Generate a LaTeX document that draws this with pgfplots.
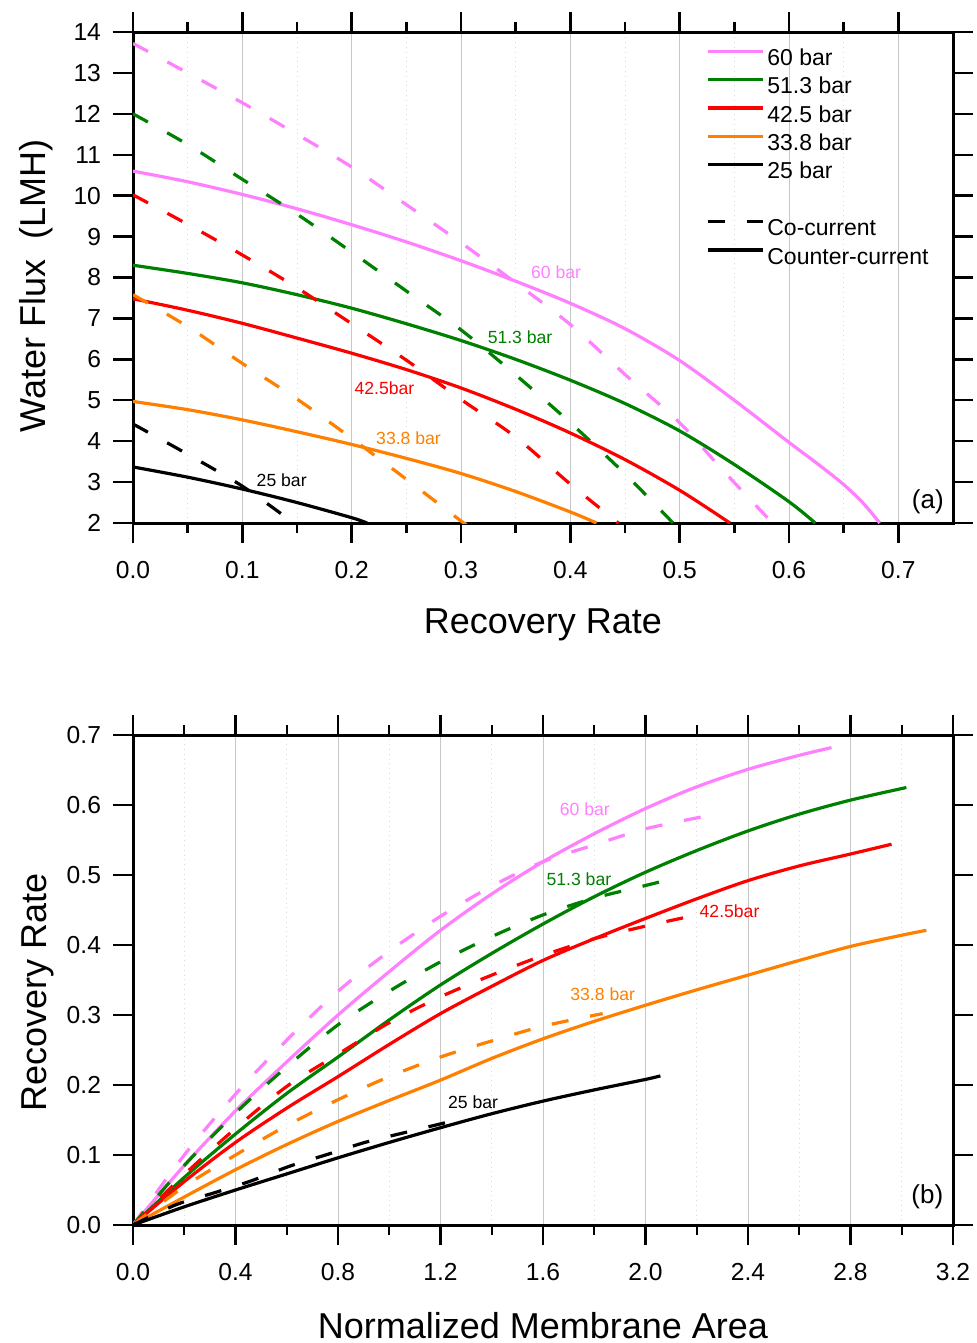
\documentclass[border=0pt]{standalone}
\usepackage{fontspec}
\setmainfont{Liberation Sans}
\usepackage{pgfplots}
\pgfplotsset{compat=1.18}
\definecolor{cPink}{RGB}{255,128,255}
\definecolor{cGreen}{RGB}{0,128,0}
\definecolor{cRed}{RGB}{255,0,0}
\definecolor{cOrange}{RGB}{255,128,0}
\tikzset{co/.style={dash pattern=on 8.5pt off 11pt}}
\pgfplotsset{
  myaxis/.style={
    scale only axis,
    width=410pt,
    /pgf/number format/assume math mode=true,
    tick align=outside,
    major tick length=10pt,
    minor tick length=5pt,
    tick style={black, line width=1.2pt},
    axis line style={line width=1.5pt, black},
    xmajorgrids, xminorgrids,
    major grid style={line width=0.5pt, color=black!22, solid},
    minor grid style={line width=0.4pt, color=black!14, dotted},
    minor x tick num=1,
    tick label style={font=\fontsize{12.3}{14}\selectfont},
    label style={font=\fontsize{18}{21}\selectfont},
    x tick label style={yshift=-5.5pt, /pgf/number format/.cd, fixed, fixed zerofill, precision=1, /tikz/.cd},
    y tick label style={xshift=-2.5pt},
    every axis plot/.append style={line width=1.6pt, no markers, smooth},
  }
}
\begin{document}
\begin{tikzpicture}
\useasboundingbox (0,0) rectangle (488.5pt,-671.5pt);
% ---------------- (a) ----------------
\begin{axis}[myaxis,
  at={(66.5pt,-261.5pt)}, anchor=south west,
  height=245.5pt,
  xmin=0, xmax=0.75, ymin=2, ymax=14,
  xtick={0,0.1,0.2,0.3,0.4,0.5,0.6,0.7},
  ytick={2,3,4,5,6,7,8,9,10,11,12,13,14},
  xlabel={Recovery Rate},
  ylabel={Water Flux~ (LMH)},
  xlabel style={at={(axis description cs:0.5,-0.226)}, anchor=base},
  ylabel style={at={(axis description cs:-0.1073,0.483)}, anchor=base},
  legend style={draw=none, fill=none, at={(axis description cs:0.699,0.967)}, anchor=north west,
    inner sep=0pt, outer sep=0pt, font=\fontsize{11.5}{13}\selectfont, row sep=3.2pt,
    nodes={inner sep=0pt, text height=8.5pt, text depth=2.5pt}},
  legend cell align=left,
  legend image code/.code={\draw[#1, line width=1.6pt] (0pt,4pt) -- (27.5pt,4pt); \path (0pt,0pt) (29pt,0pt);},
]
\addlegendimage{color=cPink}\addlegendentry{60 bar}
\addlegendimage{color=cGreen}\addlegendentry{51.3 bar}
\addlegendimage{color=cRed}\addlegendentry{42.5 bar}
\addlegendimage{color=cOrange}\addlegendentry{33.8 bar}
\addlegendimage{color=black}\addlegendentry{25 bar}
\addlegendimage{empty legend}\addlegendentry{}
\addlegendimage{color=black, co}\addlegendentry{Co-current}
\addlegendimage{color=black}\addlegendentry{Counter-current}
% 60 bar
\addplot[cPink, forget plot] coordinates {(0,10.6)(0.05,10.34)(0.1,10.03)(0.15,9.68)(0.2,9.29)(0.25,8.87)(0.3,8.41)(0.35,7.91)(0.4,7.37)(0.45,6.75)(0.5,5.97)(0.55,5.0)(0.6,3.97)(0.625,3.47)(0.65,2.94)(0.668,2.48)(0.683,2.0)};
\addplot[cPink, co, forget plot] coordinates {(0,13.72)(0.05,13.0)(0.1,12.27)(0.15,11.5)(0.2,10.7)(0.25,9.78)(0.3,8.85)(0.35,7.87)(0.4,6.85)(0.45,5.63)(0.5,4.45)(0.534,3.45)(0.56,2.7)(0.585,2.0)};
% 51.3 bar
\addplot[cGreen, forget plot] coordinates {(0,8.3)(0.05,8.1)(0.1,7.87)(0.15,7.58)(0.2,7.25)(0.25,6.87)(0.3,6.46)(0.35,6.0)(0.4,5.49)(0.45,4.92)(0.5,4.25)(0.55,3.43)(0.6,2.52)(0.624,2.0)};
\addplot[cGreen, co, forget plot] coordinates {(0,12.0)(0.05,11.25)(0.1,10.4)(0.15,9.55)(0.2,8.62)(0.25,7.67)(0.3,6.72)(0.35,5.62)(0.4,4.45)(0.45,3.2)(0.494,2.0)};
% 42.5 bar
\addplot[cRed, forget plot] coordinates {(0,7.48)(0.05,7.2)(0.1,6.88)(0.15,6.52)(0.2,6.15)(0.25,5.75)(0.3,5.3)(0.35,4.78)(0.4,4.2)(0.45,3.55)(0.5,2.8)(0.546,2.0)};
\addplot[cRed, co, forget plot] coordinates {(0,10.02)(0.05,9.3)(0.1,8.55)(0.15,7.75)(0.2,6.87)(0.25,5.98)(0.3,5.02)(0.35,4.1)(0.4,2.95)(0.444,2.0)};
% 33.8 bar
\addplot[cOrange, forget plot] coordinates {(0,4.97)(0.05,4.77)(0.1,4.52)(0.15,4.23)(0.2,3.92)(0.25,3.58)(0.3,3.21)(0.35,2.77)(0.4,2.27)(0.424,2.0)};
\addplot[cOrange, co, forget plot] coordinates {(0,7.58)(0.05,6.8)(0.1,5.9)(0.15,5.03)(0.2,4.07)(0.25,3.07)(0.3,2.05)(0.303,2.0)};
% 25 bar
\addplot[black, forget plot] coordinates {(0,3.37)(0.05,3.12)(0.1,2.83)(0.15,2.5)(0.2,2.13)(0.214,2.0)};
\addplot[black, co, forget plot] coordinates {(0,4.42)(0.05,3.68)(0.1,2.9)(0.147,2.0)};
\node[text=cPink, font=\fontsize{8.8}{10}\selectfont] at (axis cs:0.387,8.13) {60 bar};
\node[text=cGreen, font=\fontsize{8.8}{10}\selectfont] at (axis cs:0.354,6.55) {51.3 bar};
\node[text=cRed, font=\fontsize{8.8}{10}\selectfont] at (axis cs:0.23,5.3) {42.5bar};
\node[text=cOrange, font=\fontsize{8.8}{10}\selectfont] at (axis cs:0.252,4.08) {33.8 bar};
\node[text=black, font=\fontsize{8.8}{10}\selectfont] at (axis cs:0.136,3.05) {25 bar};
\node[font=\fontsize{13}{15}\selectfont] at (axis cs:0.727,2.51) {(a)};
\end{axis}
% ---------------- (b) ----------------
\begin{axis}[myaxis,
  at={(66.5pt,-612.5pt)}, anchor=south west,
  height=245pt,
  xmin=0, xmax=3.2, ymin=0, ymax=0.7,
  xtick={0,0.4,0.8,1.2,1.6,2.0,2.4,2.8,3.2},
  ytick={0,0.1,0.2,0.3,0.4,0.5,0.6,0.7},
  y tick label style={/pgf/number format/.cd, fixed, fixed zerofill, precision=1, /tikz/.cd},
  xlabel={Normalized Membrane Area},
  ylabel={Recovery Rate},
  xlabel style={at={(axis description cs:0.5,-0.2306)}, anchor=base},
  ylabel style={at={(axis description cs:-0.106,0.4755)}, anchor=base},
]
\addplot[cPink] coordinates {(0,0)(0.2,0.085)(0.4,0.163)(0.6,0.233)(0.8,0.30)(1.0,0.362)(1.2,0.421)(1.4,0.473)(1.6,0.519)(1.8,0.559)(2.0,0.595)(2.2,0.626)(2.4,0.651)(2.6,0.671)(2.726,0.682)};
\addplot[cPink, co] coordinates {(0,0)(0.2,0.1)(0.4,0.187)(0.6,0.264)(0.8,0.334)(1.0,0.391)(1.2,0.441)(1.4,0.484)(1.6,0.519)(1.8,0.543)(2.0,0.566)(2.233,0.584)};
\addplot[cGreen] coordinates {(0,0)(0.2,0.068)(0.4,0.13)(0.6,0.188)(0.8,0.24)(1.0,0.293)(1.2,0.343)(1.4,0.388)(1.6,0.43)(1.8,0.469)(2.0,0.504)(2.2,0.535)(2.4,0.563)(2.6,0.587)(2.8,0.607)(3.018,0.625)};
\addplot[cGreen, co] coordinates {(0,0)(0.2,0.085)(0.4,0.16)(0.6,0.226)(0.8,0.286)(1.0,0.334)(1.2,0.376)(1.4,0.412)(1.6,0.443)(1.8,0.467)(2.0,0.485)(2.097,0.494)};
\addplot[cRed] coordinates {(0,0)(0.2,0.062)(0.4,0.118)(0.6,0.167)(0.8,0.212)(1.0,0.258)(1.2,0.302)(1.4,0.341)(1.6,0.378)(1.8,0.409)(2.0,0.438)(2.2,0.466)(2.4,0.492)(2.6,0.513)(2.8,0.53)(2.96,0.544)};
\addplot[cRed, co] coordinates {(0,0)(0.2,0.072)(0.4,0.138)(0.6,0.198)(0.8,0.244)(1.0,0.289)(1.2,0.326)(1.4,0.357)(1.6,0.385)(1.8,0.409)(2.0,0.427)(2.175,0.441)};
\addplot[cOrange] coordinates {(0,0)(0.2,0.04)(0.4,0.079)(0.6,0.115)(0.8,0.148)(1.0,0.178)(1.2,0.207)(1.4,0.238)(1.6,0.266)(1.8,0.291)(2.0,0.314)(2.2,0.336)(2.4,0.357)(2.6,0.378)(2.8,0.398)(3.0,0.414)(3.096,0.421)};
\addplot[cOrange, co] coordinates {(0,0)(0.2,0.055)(0.4,0.1)(0.6,0.142)(0.8,0.179)(1.0,0.212)(1.2,0.24)(1.4,0.263)(1.6,0.284)(1.833,0.302)};
\addplot[black] coordinates {(0,0)(0.2,0.026)(0.4,0.05)(0.6,0.073)(0.8,0.096)(1.0,0.118)(1.2,0.139)(1.4,0.159)(1.6,0.177)(1.8,0.193)(2.0,0.208)(2.058,0.213)};
\addplot[black, co] coordinates {(0,0)(0.168,0.029)(0.317,0.046)(0.461,0.063)(0.611,0.084)(0.76,0.101)(0.905,0.118)(1.06,0.132)(1.24,0.148)};
\node[text=cPink, font=\fontsize{8.8}{10}\selectfont] at (axis cs:1.763,0.594) {60 bar};
\node[text=cGreen, font=\fontsize{8.8}{10}\selectfont] at (axis cs:1.74,0.494) {51.3 bar};
\node[text=cRed, font=\fontsize{8.8}{10}\selectfont] at (axis cs:2.328,0.449) {42.5bar};
\node[text=cOrange, font=\fontsize{8.8}{10}\selectfont] at (axis cs:1.833,0.33) {33.8 bar};
\node[text=black, font=\fontsize{8.8}{10}\selectfont] at (axis cs:1.327,0.176) {25 bar};
\node[font=\fontsize{13}{15}\selectfont] at (axis cs:3.1,0.04) {(b)};
\end{axis}
\end{tikzpicture}
\end{document}
